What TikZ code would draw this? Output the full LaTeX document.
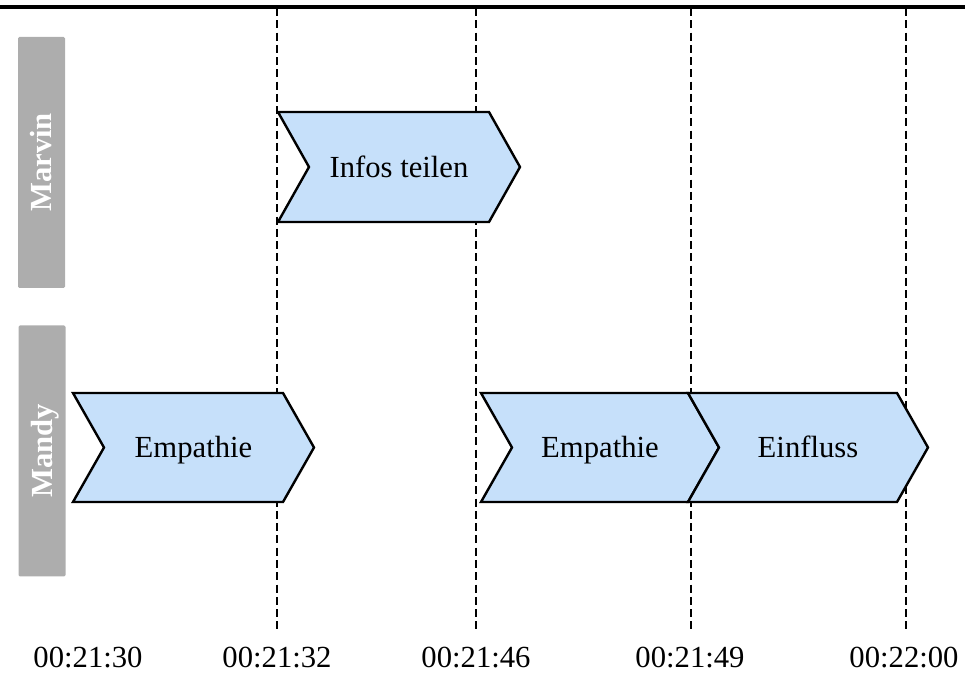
\documentclass[tikz,border=0pt]{standalone}
\usepackage{fontspec}
\setmainfont{Liberation Serif}
\definecolor{chevblue}{HTML}{C6E0FA}
\definecolor{lanegray}{HTML}{ADADAD}
\tikzset{
  timeline/.style={line width=1.7pt, dash pattern=on 6pt off 3.2pt},
  chevshape/.style={fill=chevblue, draw=black, line width=1.8pt, line join=miter},
  chevtext/.style={inner sep=0pt, text height=15.2pt, text depth=0pt,
    font=\fontsize{23}{27}\selectfont},
  lane/.style={fill=lanegray, rounded corners=1pt, rotate=90, inner sep=0pt,
    text=white, text height=15.2pt, text depth=0pt,
    font=\fontsize{23}{27}\selectfont\bfseries,
    minimum width=188.25pt, minimum height=35.25pt},
  stamp/.style={inner sep=0pt, text height=15.5pt, text depth=0pt,
    font=\fontsize{23}{27}\selectfont},
}
% chevron: name, left x, body right x, top y, bottom y, label
\newcommand\activitychev[6]{%
  \draw[chevshape] (#2,#4) -- (#3,#4) -- ({#3+31},{(#4+#5)/2}) -- (#3,#5)
    -- (#2,#5) -- ({#2+31},{(#4+#5)/2}) -- cycle;
  \node[chevtext] (#1) at ({(#2+#3+31)/2},{(#4+#5)/2}) {#6};}
\begin{document}
\begin{tikzpicture}[x=0.75pt, y=-0.75pt]
  \useasboundingbox (0,0) rectangle (965,673);
  % header rule
  \coordinate (ruleL) at (0,7);
  \coordinate (ruleR) at (965,7);
  \draw[line width=2.4pt] (ruleL) -- (ruleR);

  % swimlane labels
  \node[lane] (marvin) at (41.5,162.5) {Marvin};
  \node[lane] (mandy) at (42,451) {Mandy};

  % time stamps
  \node[stamp] (t0) at (88,657) {00:21:30};
  \node[stamp] (t1) at (277,657) {00:21:32};
  \node[stamp] (t2) at (476,657) {00:21:46};
  \node[stamp] (t3) at (690,657) {00:21:49};
  \node[stamp] (t4) at (904,657) {00:22:00};

  % dashed time markers
  \foreach \n/\x in {1/277, 2/476, 3/691, 4/906} {
    \coordinate (top\n) at (\x,8);
    \coordinate (bot\n) at (\x,630);
    \draw[timeline] (top\n) -- (bot\n);
  }

  % activities
  \activitychev{infos}{278}{489}{112}{222}{Infos teilen}
  \activitychev{empA}{73}{283}{393}{502}{Empathie}
  \activitychev{empB}{481}{688}{393}{502}{Empathie}
  \activitychev{einfl}{688}{897}{393}{502}{Einfluss}
\end{tikzpicture}
\end{document}
